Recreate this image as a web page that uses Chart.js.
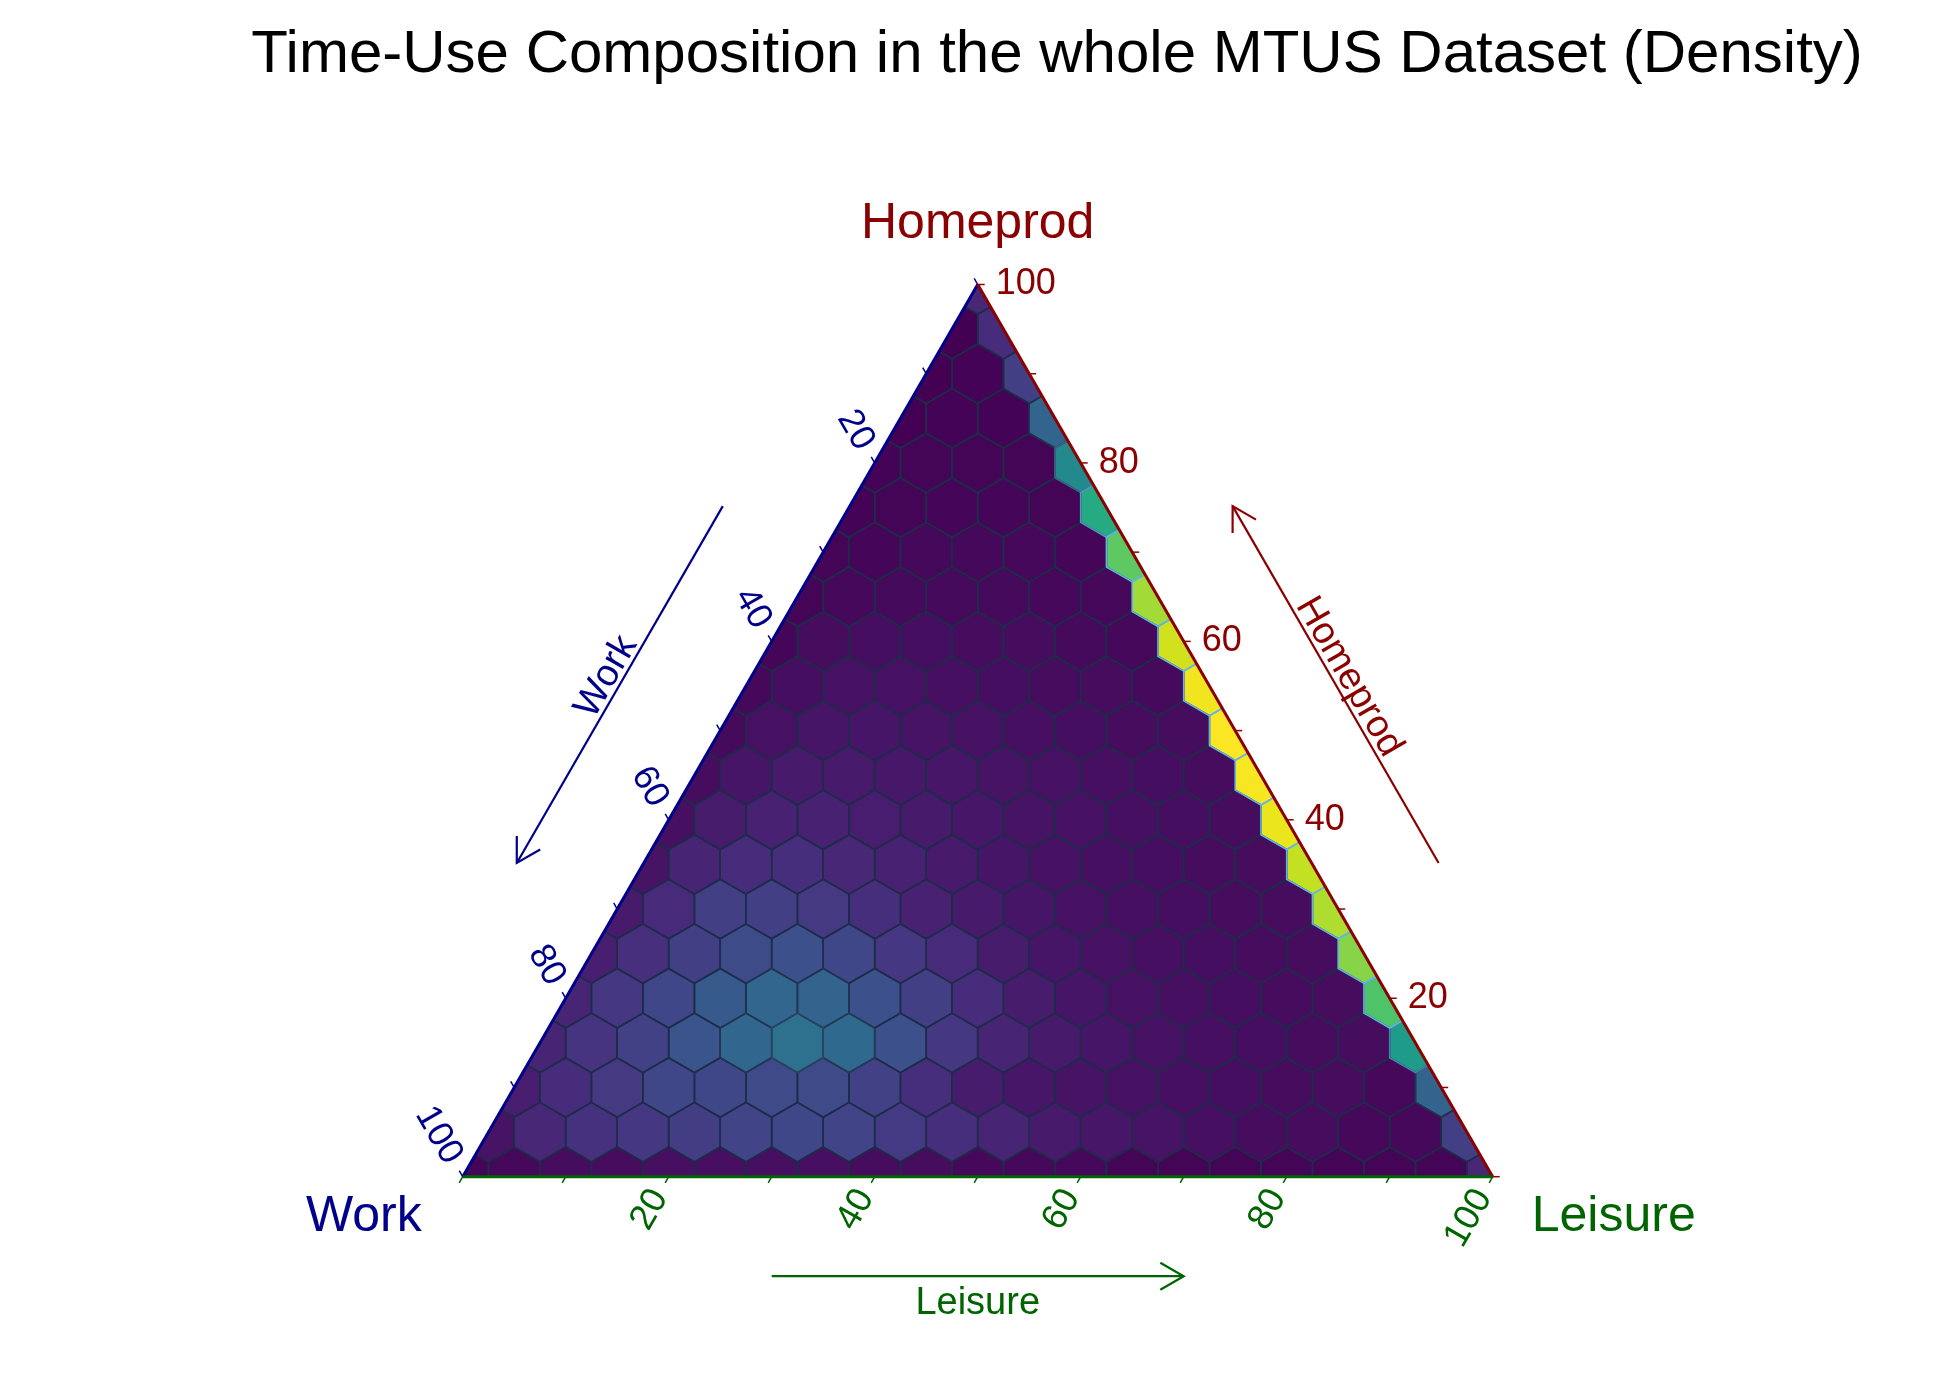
<!DOCTYPE html>
<html>
<head>
<meta charset="utf-8">
<script src="https://cdn.jsdelivr.net/npm/chart.js@4.4.1/dist/chart.umd.min.js"></script>
<style>
  html, body { margin: 0; padding: 0; background: #ffffff; }
  #wrap { width: 1956px; height: 1381px; position: relative; }
</style>
</head>
<body>
<div id="wrap"><canvas id="c"></canvas></div>
<script>
// ---------------- DATA ----------------
const chartTitle = 'Time-Use Composition in the whole MTUS Dataset (Density)';
const axisWork = 'Work';
const axisHomeprod = 'Homeprod';
const axisLeisure = 'Leisure';
const tickLabels = [20, 40, 60, 80, 100];
const tickMarks = [0, 10, 20, 30, 40, 50, 60, 70, 80, 90, 100];
const homeprodLevels = [0, 5, 10, 15, 20, 25, 30, 35, 40, 45, 50, 55, 60, 65, 70, 75, 80, 85, 90, 95, 100];
const leisureStep = 5;   // each row: leisure = 0, 5, 10, ... (work = 100 - homeprod - leisure)

// normalised density (0..1, viridis) per hexagon, one array per homeprod level
const hp00 = [0.01,0.02,0.03,0.03,0.04,0.04,0.04,0.04,0.03,0.03,0.02,0.02,0.02,0.01,0.01,0.01,0.01,0.01,0.01,0.01,0.11];
const hp05 = [0.05,0.11,0.14,0.16,0.18,0.20,0.21,0.20,0.17,0.13,0.10,0.07,0.06,0.05,0.04,0.03,0.03,0.02,0.02,0.185];
const hp10 = [0.08,0.125,0.165,0.21,0.21,0.22,0.22,0.19,0.13,0.075,0.06,0.05,0.045,0.04,0.035,0.03,0.03,0.02,0.32];
const hp15 = [0.10,0.15,0.19,0.26,0.33,0.37,0.34,0.245,0.16,0.10,0.07,0.055,0.045,0.04,0.035,0.03,0.03,0.55];
const hp20 = [0.10,0.16,0.21,0.28,0.325,0.32,0.245,0.185,0.125,0.075,0.055,0.045,0.04,0.035,0.03,0.03,0.72];
const hp25 = [0.085,0.135,0.185,0.23,0.245,0.21,0.16,0.12,0.075,0.055,0.045,0.04,0.035,0.03,0.03,0.82];
const hp30 = [0.07,0.12,0.185,0.185,0.165,0.13,0.09,0.07,0.055,0.045,0.04,0.035,0.03,0.03,0.88];
const hp35 = [0.05,0.10,0.125,0.13,0.11,0.09,0.07,0.055,0.045,0.04,0.035,0.03,0.03,0.91];
const hp40 = [0.04,0.075,0.09,0.09,0.08,0.07,0.06,0.05,0.045,0.04,0.035,0.03,0.97];
const hp45 = [0.03,0.055,0.07,0.07,0.065,0.06,0.05,0.045,0.04,0.035,0.03,0.99];
const hp50 = [0.025,0.045,0.055,0.055,0.05,0.045,0.04,0.035,0.03,0.03,1.0];
const hp55 = [0.02,0.035,0.045,0.045,0.04,0.035,0.03,0.03,0.025,0.98];
const hp60 = [0.015,0.03,0.035,0.035,0.03,0.03,0.025,0.02,0.93];
const hp65 = [0.01,0.02,0.025,0.025,0.025,0.02,0.02,0.86];
const hp70 = [0.01,0.015,0.02,0.02,0.02,0.015,0.75];
const hp75 = [0.005,0.01,0.015,0.015,0.01,0.61];
const hp80 = [0.005,0.01,0.01,0.01,0.47];
const hp85 = [0.0,0.005,0.005,0.32];
const hp90 = [0.0,0.005,0.185];
const hp95 = [0.0,0.125];
const hp100 = [0.11];
const densityRows = [hp00,hp05,hp10,hp15,hp20,hp25,hp30,hp35,hp40,hp45,hp50,hp55,hp60,hp65,hp70,hp75,hp80,hp85,hp90,hp95,hp100];

// ---------------- STYLE ----------------
const COL_WORK = '#00008b', COL_HOME = '#8b0000', COL_LEIS = '#006400';
const FONT = '"Liberation Sans", Arial, Helvetica, sans-serif';
const VIRIDIS = ['#440154','#471365','#482475','#463480','#414487','#3b528b','#355f8d','#2f6c8e','#2a788e','#25848e',
                 '#21918c','#1e9c89','#22a884','#2fb47c','#44bf70','#5ec962','#7ad151','#9bd93c','#bddf26','#dfe318','#fde725'];
const S3 = Math.sqrt(3) / 2;
const hexRadius = (leisureStep / 100) / Math.sqrt(3);

function rgb(h) { return [parseInt(h.slice(1,3),16), parseInt(h.slice(3,5),16), parseInt(h.slice(5,7),16)]; }
function mix(a, b, t) { return 'rgb(' + a.map((v,i) => Math.round(v + (b[i]-v)*t)).join(',') + ')'; }
function viridis(t) {
  t = Math.max(0, Math.min(1, t));
  const p = t * (VIRIDIS.length - 1);
  const i = Math.min(VIRIDIS.length - 2, Math.floor(p));
  return mix(rgb(VIRIDIS[i]), rgb(VIRIDIS[i+1]), p - i);
}
function outline(v) {
  const t = Math.max(0, Math.min(1, (v - 0.3) / 0.4));
  return mix([29,44,72], [99,179,234], t);
}

// build points (ternary -> cartesian data coordinates)
const points = [], values = [];
densityRows.forEach((row, i) => {
  const h = homeprodLevels[i];
  row.forEach((v, j) => {
    const l = j * leisureStep;
    points.push({ x: (l + h / 2) / 100, y: h / 100 * S3 });
    values.push(v);
  });
});

function norm(v) { const d = Math.hypot(v.x, v.y); return { x: v.x / d, y: v.y / d }; }

const ternaryPlugin = {
  id: 'ternary',
  beforeDatasetsDraw(chart) {
    const ctx = chart.ctx, xs = chart.scales.x, ys = chart.scales.y;
    const P = (h, l) => ({ x: xs.getPixelForValue((l + h / 2) / 100), y: ys.getPixelForValue(h / 100 * S3) });
    const A = P(100, 0), B = P(0, 0), C = P(0, 100);
    const meta = chart.getDatasetMeta(0);
    const r = Math.abs(xs.getPixelForValue(hexRadius) - xs.getPixelForValue(0));
    const hexPath = (cx, cy) => {
      ctx.beginPath();
      for (let k = 0; k < 6; k++) {
        const a = -Math.PI / 2 + k * Math.PI / 3;
        const px = cx + r * Math.cos(a), py = cy + r * Math.sin(a);
        if (k === 0) ctx.moveTo(px, py); else ctx.lineTo(px, py);
      }
      ctx.closePath();
    };
    ctx.save();
    ctx.beginPath(); ctx.moveTo(A.x, A.y); ctx.lineTo(B.x, B.y); ctx.lineTo(C.x, C.y); ctx.closePath(); ctx.clip();
    meta.data.forEach((el, i) => { hexPath(el.x, el.y); ctx.fillStyle = viridis(values[i]); ctx.fill(); });
    const order = values.map((v, i) => i).sort((a, b) => values[a] - values[b]);
    ctx.lineWidth = 1.6; ctx.lineJoin = 'round';
    order.forEach(i => { const el = meta.data[i]; hexPath(el.x, el.y); ctx.strokeStyle = outline(values[i]); ctx.stroke(); });
    ctx.restore();
  },
  afterDatasetsDraw(chart) {
    const ctx = chart.ctx, xs = chart.scales.x, ys = chart.scales.y;
    const P = (h, l) => ({ x: xs.getPixelForValue((l + h / 2) / 100), y: ys.getPixelForValue(h / 100 * S3) });
    const A = P(100, 0), B = P(0, 0), C = P(0, 100);
    ctx.save();
    // edges
    ctx.lineWidth = 3; ctx.lineCap = 'butt';
    const seg = (p, q, col) => { ctx.strokeStyle = col; ctx.beginPath(); ctx.moveTo(p.x, p.y); ctx.lineTo(q.x, q.y); ctx.stroke(); };
    seg(B, A, COL_WORK); seg(A, C, COL_HOME); seg(B, C, COL_LEIS);

    const workOut = norm({ x: A.x - C.x, y: A.y - C.y });
    const leisOut = norm({ x: B.x - A.x, y: B.y - A.y });
    const homeOut = norm({ x: C.x - B.x, y: C.y - B.y });
    const TL = 7, LG = 18;
    ctx.lineWidth = 1.5;
    tickMarks.forEach(v => {
      let p = P(100 - v, 0);
      seg(p, { x: p.x + workOut.x * TL, y: p.y + workOut.y * TL }, COL_WORK);
      p = P(0, v);
      seg(p, { x: p.x + leisOut.x * TL, y: p.y + leisOut.y * TL }, COL_LEIS);
      p = P(v, 100 - v);
      seg(p, { x: p.x + homeOut.x * TL, y: p.y + homeOut.y * TL }, COL_HOME);
    });
    ctx.font = '36px ' + FONT;
    ctx.textBaseline = 'middle';
    tickLabels.forEach(v => {
      let p = P(100 - v, 0);
      ctx.save(); ctx.translate(p.x + workOut.x * LG, p.y + workOut.y * LG); ctx.rotate(Math.PI / 3);
      ctx.fillStyle = COL_WORK; ctx.textAlign = 'right'; ctx.fillText(String(v), 0, 0); ctx.restore();
      p = P(0, v);
      ctx.save(); ctx.translate(p.x + leisOut.x * LG, p.y + leisOut.y * LG); ctx.rotate(-Math.PI / 3);
      ctx.fillStyle = COL_LEIS; ctx.textAlign = 'right'; ctx.fillText(String(v), 0, 0); ctx.restore();
      p = P(v, 100 - v);
      ctx.fillStyle = COL_HOME; ctx.textAlign = 'left'; ctx.fillText(String(v), p.x + homeOut.x * LG, p.y);
    });

    // corner titles
    ctx.font = '50px ' + FONT; ctx.textBaseline = 'alphabetic';
    ctx.fillStyle = COL_HOME; ctx.textAlign = 'center'; ctx.fillText(axisHomeprod, A.x, A.y - 47);
    ctx.fillStyle = COL_WORK; ctx.textAlign = 'right'; ctx.fillText(axisWork, B.x - 41, B.y + 54);
    ctx.fillStyle = COL_LEIS; ctx.textAlign = 'left'; ctx.fillText(axisLeisure, C.x + 39, C.y + 54);

    // direction arrows
    const lerp = (p, q, t) => ({ x: p.x + (q.x - p.x) * t, y: p.y + (q.y - p.y) * t });
    const nL = { x: -S3, y: -0.5 }, nR = { x: S3, y: -0.5 };
    const arrow = (s, e, col) => {
      ctx.strokeStyle = col; ctx.lineWidth = 2.2;
      ctx.beginPath(); ctx.moveTo(s.x, s.y); ctx.lineTo(e.x, e.y); ctx.stroke();
      const ang = Math.atan2(s.y - e.y, s.x - e.x), len = 27;
      ctx.beginPath();
      ctx.moveTo(e.x + len * Math.cos(ang + Math.PI / 6), e.y + len * Math.sin(ang + Math.PI / 6));
      ctx.lineTo(e.x, e.y);
      ctx.lineTo(e.x + len * Math.cos(ang - Math.PI / 6), e.y + len * Math.sin(ang - Math.PI / 6));
      ctx.stroke();
    };
    const off = 110;
    const wS = lerp(B, A, 0.69), wE = lerp(B, A, 0.29);
    const ws = { x: wS.x + nL.x * off, y: wS.y + nL.y * off }, we = { x: wE.x + nL.x * off, y: wE.y + nL.y * off };
    arrow(ws, we, COL_WORK);
    const hS = lerp(C, A, 0.29), hE = lerp(C, A, 0.69);
    const hs = { x: hS.x + nR.x * off, y: hS.y + nR.y * off }, he = { x: hE.x + nR.x * off, y: hE.y + nR.y * off };
    arrow(hs, he, COL_HOME);
    const lS = lerp(B, C, 0.30), lE = lerp(B, C, 0.70);
    const ls = { x: lS.x, y: lS.y + 99.5 }, le = { x: lE.x, y: lE.y + 99.5 };
    arrow(ls, le, COL_LEIS);

    ctx.font = '38px ' + FONT; ctx.textAlign = 'center'; ctx.textBaseline = 'alphabetic';
    let m = lerp(ws, we, 0.5);
    ctx.save(); ctx.translate(m.x + nL.x * 5, m.y + nL.y * 5); ctx.rotate(-Math.PI / 3);
    ctx.fillStyle = COL_WORK; ctx.fillText(axisWork, 0, 0); ctx.restore();
    m = lerp(hs, he, 0.5);
    ctx.save(); ctx.translate(m.x + nR.x * 5, m.y + nR.y * 5); ctx.rotate(Math.PI / 3);
    ctx.fillStyle = COL_HOME; ctx.fillText(axisHomeprod, 0, 0); ctx.restore();
    m = lerp(ls, le, 0.5);
    ctx.fillStyle = COL_LEIS; ctx.fillText(axisLeisure, m.x, m.y + 37.5);

    // title
    ctx.font = '60px ' + FONT; ctx.fillStyle = '#000000'; ctx.textAlign = 'center';
    ctx.fillText(chartTitle, 1057, 72);
    ctx.restore();
  }
};

new Chart(document.getElementById('c'), {
  type: 'scatter',
  data: { datasets: [{ label: 'density', data: points, pointRadius: 0, pointHoverRadius: 0, showLine: false }] },
  options: {
    responsive: true,
    maintainAspectRatio: false,
    animation: false,
    events: [],
    layout: { padding: { left: 462.7, right: 463.3, top: 284.5, bottom: 204.3 } },
    scales: {
      x: { type: 'linear', min: 0, max: 1, display: false },
      y: { type: 'linear', min: 0, max: S3, display: false }
    },
    plugins: { legend: { display: false }, tooltip: { enabled: false }, title: { display: false } }
  },
  plugins: [ternaryPlugin]
});
</script>
</body>
</html>
